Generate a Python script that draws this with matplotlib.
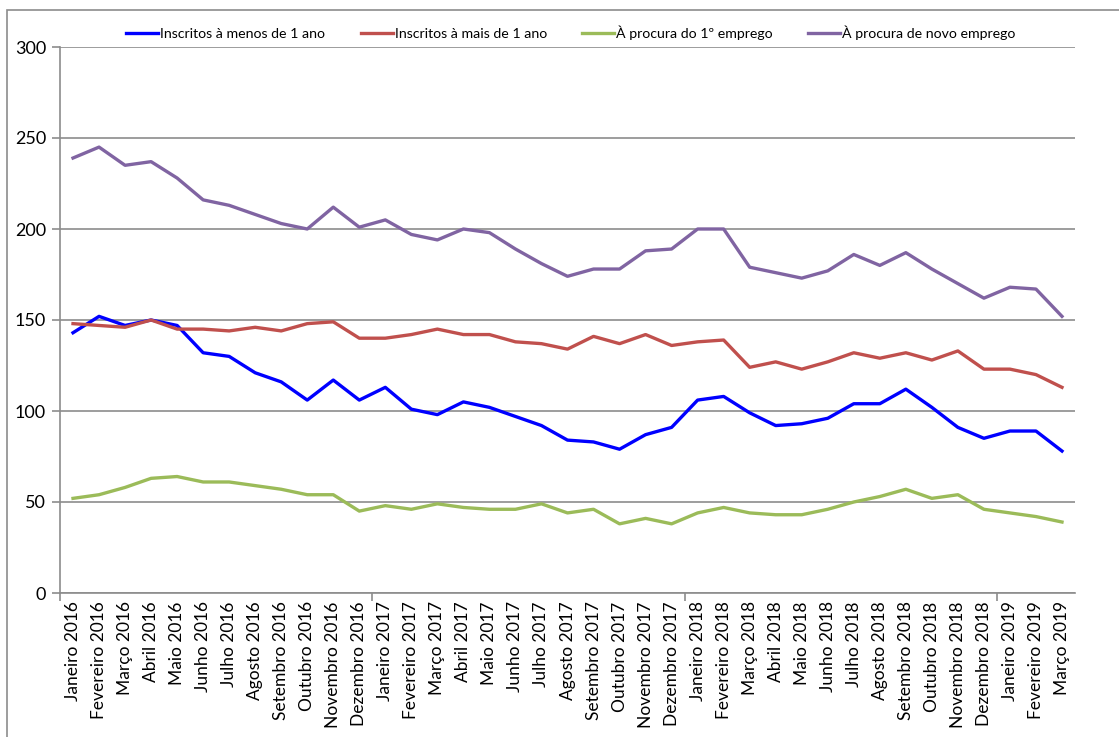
import matplotlib
matplotlib.use("Agg")
import matplotlib.pyplot as plt
from matplotlib.patches import Rectangle
from matplotlib.ticker import FixedLocator, NullFormatter

months = ["Janeiro", "Fevereiro", "Março", "Abril", "Maio", "Junho", "Julho",
          "Agosto", "Setembro", "Outubro", "Novembro", "Dezembro"]
years = [2016, 2017, 2018, 2019]
labels = [f"{m} {y}" for y in years for m in months][:39]

menos_1_ano = [143, 152, 147, 150, 147, 132, 130, 121, 116, 106, 117, 106,
               113, 101, 98, 105, 102, 97, 92, 84, 83, 79, 87, 91,
               106, 108, 99, 92, 93, 96, 104, 104, 112, 102, 91, 85,
               89, 89, 78]
mais_1_ano = [148, 147, 146, 150, 145, 145, 144, 146, 144, 148, 149, 140,
              140, 142, 145, 142, 142, 138, 137, 134, 141, 137, 142, 136,
              138, 139, 124, 127, 123, 127, 132, 129, 132, 128, 133, 123,
              123, 120, 113]
primeiro_emprego = [52, 54, 58, 63, 64, 61, 61, 59, 57, 54, 54, 45,
                    48, 46, 49, 47, 46, 46, 49, 44, 46, 38, 41, 38,
                    44, 47, 44, 43, 43, 46, 50, 53, 57, 52, 54, 46,
                    44, 42, 39]
novo_emprego = [239, 245, 235, 237, 228, 216, 213, 208, 203, 200, 212, 201,
                205, 197, 194, 200, 198, 189, 181, 174, 178, 178, 188, 189,
                200, 200, 179, 176, 173, 177, 186, 180, 187, 178, 170, 162,
                168, 167, 152]

series = [
    ("Inscritos à menos de 1 ano", menos_1_ano, "#0000FF"),
    ("Inscritos à mais de 1 ano", mais_1_ano, "#C0504D"),
    ("À procura do 1º emprego", primeiro_emprego, "#9BBB59"),
    ("À procura de novo emprego", novo_emprego, "#8064A2"),
]

plt.rcParams["font.family"] = ["Lato", "DejaVu Sans"]

W, H = 1119, 737
fig = plt.figure(figsize=(W / 100, H / 100), dpi=100)
ax = fig.add_axes([60 / W, 1 - 593 / H, (1075 - 60) / W, (593 - 47) / H])

x = list(range(len(labels)))
for name, vals, col in series:
    ax.plot(x, vals, color=col, lw=2.4, label=name, solid_joinstyle="round")

grid_col = "#8C8C8C"
ax.set_ylim(0, 300)
ax.set_yticks(range(0, 301, 50))
ax.set_xlim(-0.5, len(labels) - 0.5)
ax.yaxis.grid(True, color=grid_col, lw=1.2)
ax.set_axisbelow(True)

for s in ["top", "right"]:
    ax.spines[s].set_visible(False)
for s in ["left", "bottom"]:
    ax.spines[s].set_color(grid_col)
    ax.spines[s].set_linewidth(1.2)

ax.tick_params(axis="y", length=6, color=grid_col, width=1.2,
               labelsize=13, pad=4, labelcolor="#000000")

# category labels at month centres, tick marks only at year boundaries
ax.xaxis.set_major_locator(FixedLocator([-0.5, 11.5, 23.5, 35.5]))
ax.xaxis.set_major_formatter(NullFormatter())
ax.xaxis.set_minor_locator(FixedLocator(x))
ax.set_xticklabels(labels, minor=True, rotation=90, fontsize=12.5)
ax.tick_params(axis="x", which="major", length=6, color=grid_col, width=1.2)
ax.tick_params(axis="x", which="minor", length=0, pad=6)

fig.legend(loc="center", bbox_to_anchor=(571 / W, 1 - 33 / H), ncol=4,
           frameon=False, fontsize=10.2, handlelength=2.25, handletextpad=0.15,
           columnspacing=2.5)

fig.patches.append(Rectangle((7 / W, -0.01), 1.02, 1 - 10 / H + 0.01,
                             transform=fig.transFigure, fill=False,
                             edgecolor="#8C8C8C", lw=1.2))

fig.savefig("out.png", dpi=100)
